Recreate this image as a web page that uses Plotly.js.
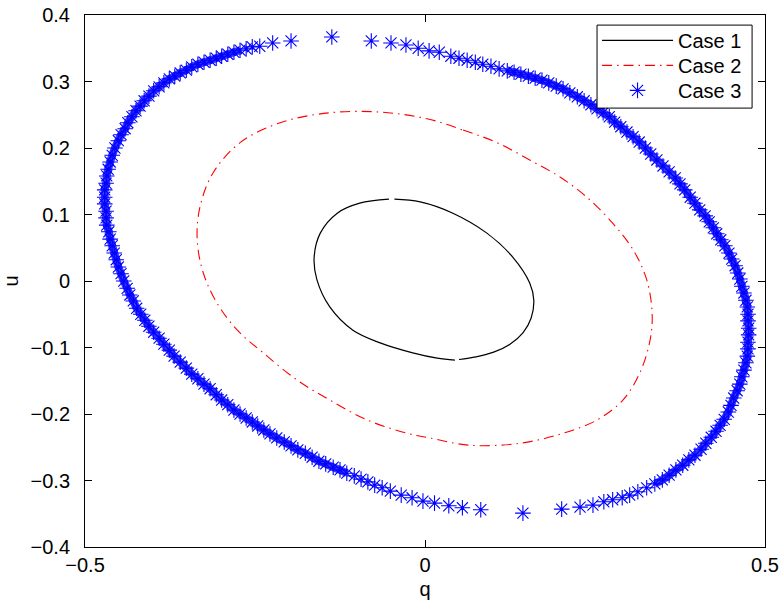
<!DOCTYPE html>
<html><head><meta charset="utf-8">
<script src="https://cdn.plot.ly/plotly-3.0.1.min.js"></script>
<style>html,body{margin:0;padding:0;background:#fff}</style>
</head><body>
<div id="chart" style="width:779px;height:606px"></div>
<script>
// ---- data ----
const seriesNames = ['Case 1', 'Case 2', 'Case 3'];

// Case 1 (two arcs with small gaps at top and bottom)
const case1Q = [-0.045,-0.007,0.041,0.091,0.129,0.154,0.160,0.156,0.144,0.125,0.101,0.075,0.050,null,
  0.044,0.018,-0.018,-0.066,-0.106,-0.140,-0.159,-0.163,-0.154,-0.129,-0.096,-0.053];
const case1U = [0.123,0.119,0.102,0.072,0.036,-0.003,-0.029,-0.056,-0.078,-0.095,-0.107,-0.114,-0.118,null,
  -0.119,-0.116,-0.108,-0.093,-0.074,-0.039,0.002,0.036,0.072,0.102,0.117,0.123];

// Case 2
const case2Q = [0.003,0.056,0.106,0.154,0.199,0.238,0.276,0.306,0.326,0.334,0.331,0.316,0.291,0.253,0.203,0.140,0.066,0.007,-0.026,-0.085,-0.140,-0.188,-0.238,-0.276,-0.306,-0.326,-0.335,-0.331,-0.312,-0.272,-0.213,-0.140,-0.066,0.003];
const case2U = [0.244,0.227,0.208,0.182,0.156,0.126,0.087,0.047,0.002,-0.048,-0.089,-0.138,-0.179,-0.209,-0.229,-0.244,-0.247,-0.236,-0.229,-0.209,-0.179,-0.149,-0.108,-0.074,-0.033,0.012,0.062,0.111,0.162,0.208,0.238,0.253,0.254,0.244];

// Case 3 (asterisk markers)
const case3Q = [
  -0.254,-0.263,-0.272,-0.281,-0.290,-0.299,-0.307,-0.316,-0.325,-0.334,
  -0.343,-0.351,-0.360,-0.368,-0.376,-0.384,-0.391,-0.399,-0.406,-0.413,
  -0.419,-0.425,-0.431,-0.437,-0.441,-0.447,-0.451,-0.456,-0.460,-0.463,
  -0.466,-0.468,-0.469,-0.471,-0.471,-0.471,-0.469,-0.469,-0.468,-0.465,
  -0.463,-0.460,-0.457,-0.454,-0.451,-0.447,-0.443,-0.438,-0.434,-0.429,
  -0.424,-0.418,-0.412,-0.406,-0.399,-0.391,-0.384,-0.376,-0.369,-0.360,
  -0.351,-0.343,-0.334,-0.325,-0.316,-0.307,-0.299,-0.290,-0.281,-0.272,
  -0.263,-0.254,-0.246,-0.237,-0.228,-0.218,-0.207,-0.197,-0.187,-0.176,
  -0.166,-0.156,-0.146,-0.135,-0.125,-0.115,-0.104,-0.094,-0.084,-0.074,
  -0.063,-0.051,
  -0.035,-0.019,-0.003,0.014,0.035,0.055,0.082,0.144,0.201,0.228,0.247,0.263,0.276,0.290,0.301,0.313,0.326,
  0.338,0.349,0.359,0.369,0.379,0.388,0.397,0.406,0.413,0.421,
  0.428,0.434,0.440,0.446,0.450,0.454,0.459,0.463,0.466,0.469,
  0.472,0.474,0.475,0.475,0.476,0.476,0.475,0.475,0.474,0.472,
  0.469,0.466,0.463,0.460,0.456,0.451,0.447,0.441,0.435,0.429,
  0.424,0.418,0.412,0.404,0.397,0.390,0.382,0.375,0.368,0.359,
  0.350,0.341,0.332,0.324,0.315,0.306,0.297,0.288,0.279,0.271,
  0.262,0.253,0.244,0.234,0.224,0.213,0.203,0.193,0.182,0.172,
  0.162,0.152,0.141,0.131,0.121,0.109,0.097,0.085,0.074,0.062,
  0.050,0.038,
  0.021,0.006,-0.010,-0.028,-0.050,-0.079,-0.137,-0.197,-0.224,-0.243];
const case3U = [
  0.352,0.349,0.347,0.344,0.341,0.338,0.335,0.332,0.329,0.326,
  0.322,0.317,0.313,0.308,0.304,0.298,0.292,0.286,0.278,0.271,
  0.263,0.256,0.247,0.238,0.229,0.220,0.211,0.200,0.189,0.179,
  0.168,0.158,0.147,0.137,0.126,0.116,0.105,0.095,0.084,0.074,
  0.063,0.053,0.042,0.032,0.021,0.011,0.000,-0.011,-0.021,-0.030,
  -0.041,-0.050,-0.059,-0.068,-0.077,-0.086,-0.095,-0.104,-0.113,-0.122,
  -0.131,-0.140,-0.147,-0.155,-0.162,-0.171,-0.179,-0.186,-0.194,-0.200,
  -0.206,-0.212,-0.218,-0.224,-0.230,-0.236,-0.242,-0.248,-0.254,-0.259,
  -0.265,-0.271,-0.275,-0.280,-0.284,-0.289,-0.293,-0.298,-0.302,-0.307,
  -0.311,-0.316,
  -0.322,-0.326,-0.331,-0.334,-0.338,-0.341,-0.344,-0.349,-0.343,-0.340,-0.337,-0.332,-0.329,-0.326,-0.322,-0.317,-0.311,
  -0.305,-0.299,-0.292,-0.284,-0.277,-0.269,-0.262,-0.253,-0.244,-0.235,
  -0.226,-0.217,-0.208,-0.197,-0.187,-0.176,-0.165,-0.155,-0.144,-0.134,
  -0.123,-0.113,-0.102,-0.092,-0.081,-0.071,-0.060,-0.050,-0.039,-0.029,
  -0.018,-0.008,0.003,0.012,0.023,0.033,0.042,0.053,0.062,0.071,
  0.080,0.089,0.098,0.107,0.117,0.126,0.137,0.146,0.155,0.164,
  0.173,0.182,0.191,0.200,0.209,0.217,0.224,0.232,0.239,0.247,
  0.253,0.259,0.265,0.271,0.277,0.283,0.289,0.293,0.298,0.302,
  0.305,0.308,0.311,0.314,0.316,0.319,0.323,0.326,0.329,0.332,
  0.335,0.338,
  0.344,0.346,0.350,0.355,0.358,0.361,0.367,0.361,0.358,0.353];

const xTicks = [-0.5, 0, 0.5];
const yTicks = [-0.4, -0.3, -0.2, -0.1, 0, 0.1, 0.2, 0.3, 0.4];
const xLabel = 'q';
const yLabel = 'u';

// ---- chart ----
const FONT = 'Liberation Sans, Arial, Helvetica, sans-serif';
const FS = 20;
const BLUE = '#0000ff';
// the densely packed stretches of Case 3 (slices of the same arrays) get a band under the markers
const denseA = [2, 86], denseB = [109, 184];
const bandTrace = (r) => ({x: case3Q.slice(r[0], r[1]), y: case3U.slice(r[0], r[1]),
  type: 'scatter', mode: 'lines', showlegend: false, hoverinfo: 'skip',
  line: {color: 'rgba(0,0,255,0.78)', width: 8, shape: 'spline'}});

const traces = [
  {x: case1Q, y: case1U, name: seriesNames[0], type: 'scatter', mode: 'lines', legend: 'legend',
   line: {color: '#000000', width: 1.2, shape: 'spline', smoothing: 1}, connectgaps: false},
  {x: case2Q, y: case2U, name: seriesNames[1], type: 'scatter', mode: 'lines', legend: 'legend2',
   line: {color: '#ff0000', width: 1.1, dash: '10px,5px,1.5px,5px', shape: 'spline', smoothing: 1}},
  bandTrace(denseA), bandTrace(denseB),
  {x: case3Q, y: case3U, name: seriesNames[2], type: 'scatter', mode: 'markers', legend: 'legend3',
   marker: {symbol: 'asterisk-open', size: 13, color: BLUE, line: {color: BLUE, width: 1.1}}}
];
const axisCommon = {
  ticks: 'inside', ticklen: 7, tickwidth: 1, tickcolor: '#000',
  showline: true, linecolor: '#000', linewidth: 1, mirror: 'ticks',
  showgrid: false, zeroline: false,
  tickfont: {family: FONT, size: FS, color: '#000'}
};
// legend box geometry (paper coordinates)
const boxX0 = 0.753, boxX1 = 0.981, boxY0 = 0.825, boxY1 = 0.981;
const legendRow = (y) => ({x: boxX0, y: y, xanchor: 'left', yanchor: 'middle',
  bgcolor: 'rgba(0,0,0,0)', borderwidth: 0, itemwidth: 71,
  font: {family: FONT, size: FS, color: '#000'}});
const layout = {
  width: 779, height: 606,
  margin: {l: 85, r: 14, t: 15, b: 59, pad: 0},
  paper_bgcolor: '#ffffff', plot_bgcolor: '#ffffff',
  font: {family: FONT, size: FS, color: '#000'},
  showlegend: true,
  xaxis: Object.assign({}, axisCommon, {range: [-0.5, 0.5], tickvals: xTicks,
    title: {text: xLabel, font: {family: FONT, size: FS, color: '#000'}, standoff: 6}}),
  yaxis: Object.assign({}, axisCommon, {range: [-0.4, 0.4], tickvals: yTicks, ticklabelstandoff: 10,
    title: {text: yLabel, font: {family: FONT, size: FS, color: '#000'}, standoff: 10}}),
  shapes: [{type: 'rect', xref: 'paper', yref: 'paper', x0: boxX0, x1: boxX1, y0: boxY0, y1: boxY1,
    fillcolor: '#ffffff', line: {color: '#000', width: 1}, layer: 'above'}],
  legend: legendRow(0.9522),
  legend2: legendRow(0.9053),
  legend3: legendRow(0.8583)
};
Plotly.newPlot('chart', traces, layout, {displayModeBar: false, staticPlot: true});
</script>
</body></html>
